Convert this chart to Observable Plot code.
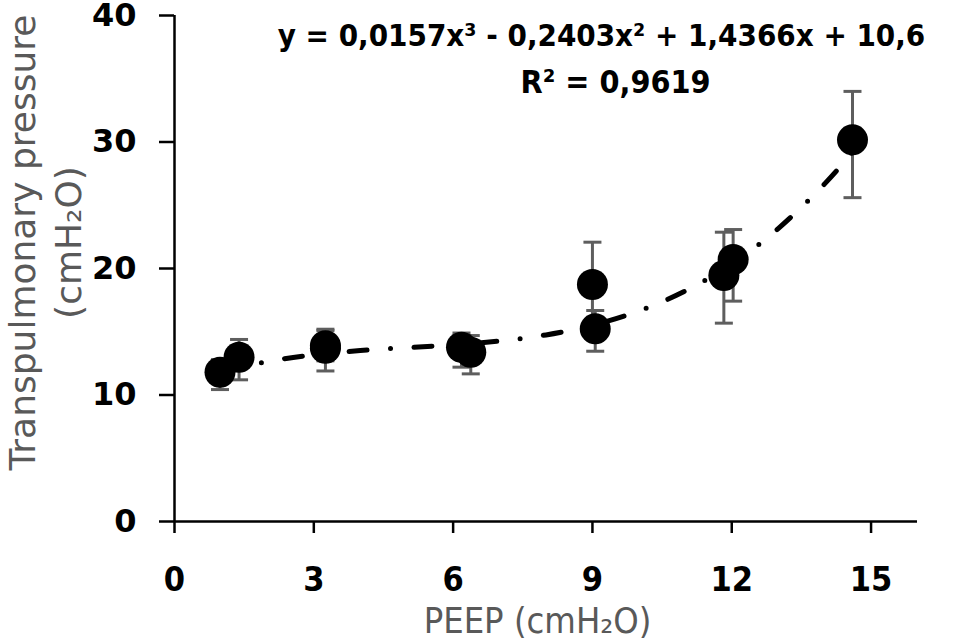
<!DOCTYPE html>
<html><head><meta charset="utf-8">
<script src="https://cdn.jsdelivr.net/npm/d3@7"></script>
<script src="https://cdn.jsdelivr.net/npm/@observablehq/plot@0.6"></script>
<style>
html,body{margin:0;padding:0;background:#fff;}
#chart svg{display:block;}
g[aria-label="x-axis tick label"]{font-family:"DejaVu Sans Condensed","DejaVu Sans",sans-serif;font-weight:bold;font-size:34px;fill:#000;}
g[aria-label="y-axis tick label"]{font-family:"DejaVu Sans",sans-serif;font-weight:bold;font-size:32px;fill:#000;}
</style>
</head><body><div id="chart"></div>
<script>
// Data
const peep     = [0.98, 1.39, 3.25, 3.25, 6.18, 6.38, 9.0, 9.06, 11.83, 12.03, 14.6];
const pressure = [11.8, 12.99, 13.9, 13.7, 13.78, 13.38, 18.73, 15.23, 19.45, 20.71, 30.17];
const errLow   = [10.43, 11.2, 12.7, 11.9, 12.2, 11.67, 15.4, 13.46, 15.68, 17.42, 25.6];
const errHigh  = [12.8, 14.39, 15.1, 15.2, 14.9, 14.7, 22.08, 16.68, 22.87, 23.08, 34.0];
// Polynomial trendline as drawn
const trendX = [1, 2, 3, 4, 5, 6, 7, 8, 9, 10, 11, 12, 13, 14, 14.6];
const trendY = [11.81, 12.64, 13.17, 13.51, 13.74, 13.96, 14.27, 14.75, 15.51, 16.64, 18.22, 20.37, 23.16, 26.69, 29.21];
const xTicks = [0, 3, 6, 9, 12, 15];
const yTicks = [0, 10, 20, 30, 40];
const equation = "y = 0,0157x³ - 0,2403x² + 1,4366x + 10,6";
const rSquared = "R² = 0,9619";
const xTitle = "PEEP (cmH₂O)";
const yTitle1 = "Transpulmonary pressure";
const yTitle2 = "(cmH₂O)";

const rows = peep.map((x, i) => ({x, y: pressure[i], lo: errLow[i], hi: errHigh[i]}));
const trend = trendX.map((x, i) => ({x, y: trendY[i]}));

const cap = {draw(ctx) { ctx.moveTo(-9, 0); ctx.lineTo(9, 0); }};
const gray = "#5e5e5e";
const condensed = "DejaVu Sans Condensed, DejaVu Sans, sans-serif";

const W = 956, H = 642, ML = 174, MR = 39, MT = 15, MB = 121;

const chart = Plot.plot({
  width: W, height: H,
  marginLeft: ML, marginRight: MR, marginTop: MT, marginBottom: MB,
  style: {background: "white", color: "black", overflow: "visible"},
  x: {domain: [0, 16]},
  y: {domain: [0, 40]},
  marks: [
    Plot.axisX({ticks: xTicks, tickSize: 12, tickPadding: 33, label: null, strokeWidth: 2.5, stroke: "black"}),
    Plot.axisY({ticks: yTicks, tickSize: 15, tickPadding: 23, label: null, strokeWidth: 2.5, stroke: "black"}),
    Plot.ruleY([0], {stroke: "black", strokeWidth: 2.5}),
    Plot.ruleX([0], {stroke: "black", strokeWidth: 2.5}),
    Plot.ruleX(rows, {x: "x", y1: "lo", y2: "hi", stroke: gray, strokeWidth: 3}),
    Plot.dot(rows, {x: "x", y: "lo", symbol: cap, stroke: gray, strokeWidth: 3, fill: "none"}),
    Plot.dot(rows, {x: "x", y: "hi", symbol: cap, stroke: gray, strokeWidth: 3, fill: "none"}),
    Plot.dot(rows, {x: "x", y: "y", r: 15.5, fill: "black", stroke: "none"}),
    Plot.line(trend, {x: "x", y: "y", curve: "natural", stroke: "black", strokeWidth: 5,
      strokeLinecap: "round", strokeDasharray: "18,23.5,0,23.5"}),
    Plot.text([equation], {text: d => d, frameAnchor: "top-left", dx: 601 - ML, dy: 45 - MT,
      textAnchor: "middle", lineAnchor: "bottom", fontSize: 31, fontWeight: "bold", fontFamily: condensed, fill: "black"}),
    Plot.text([rSquared], {text: d => d, frameAnchor: "top-left", dx: 615 - ML, dy: 92 - MT,
      textAnchor: "middle", lineAnchor: "bottom", fontSize: 32, fontWeight: "bold", fontFamily: condensed, fill: "black"}),
    Plot.text([xTitle], {text: d => d, frameAnchor: "top-left", dx: 537 - ML, dy: 632 - MT,
      textAnchor: "middle", lineAnchor: "bottom", fontSize: 36, fontFamily: condensed, fill: "#595959"}),
    Plot.text([yTitle1], {text: d => d, frameAnchor: "top-left", dx: 34 - ML, dy: 242 - MT, rotate: -90,
      textAnchor: "middle", lineAnchor: "bottom", fontSize: 36, fontFamily: "DejaVu Sans, sans-serif", fill: "#595959"}),
    Plot.text([yTitle2], {text: d => d, frameAnchor: "top-left", dx: 80 - ML, dy: 242 - MT, rotate: -90,
      textAnchor: "middle", lineAnchor: "bottom", fontSize: 36, fontFamily: "DejaVu Sans, sans-serif", fill: "#595959"})
  ]
});
document.getElementById("chart").appendChild(chart);
</script>
</body></html>
